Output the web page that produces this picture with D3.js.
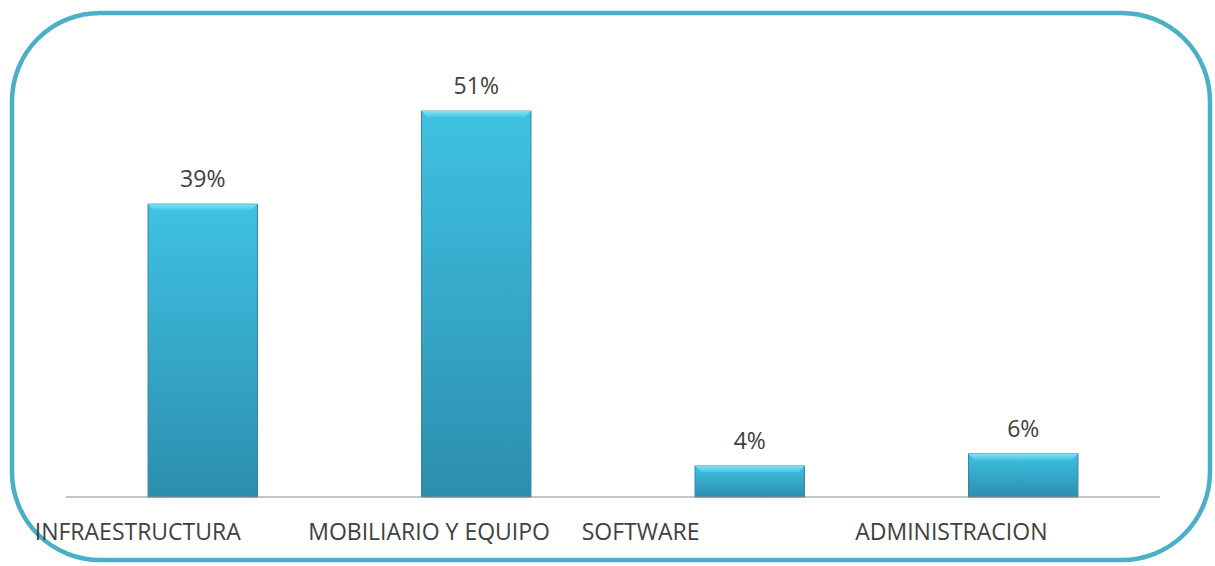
<!DOCTYPE html>
<html>
<head>
<meta charset="utf-8">
<script src="https://cdn.jsdelivr.net/npm/d3@7"></script>
<style>
  body { margin: 0; background: #fff; }
  text { font-family: 'Open Sans', 'Noto Sans', sans-serif; fill: #404040; }
</style>
</head>
<body>
<div id="chart"></div>
<script>
var categories = ["INFRAESTRUCTURA", "MOBILIARIO Y EQUIPO", "SOFTWARE", "ADMINISTRACION"];
var shares = [0.387, 0.51, 0.041, 0.057];
var yDomain = [0, 0.6];

var data = categories.map(function (c, i) { return { name: c, value: shares[i] }; });

var W = 1215, H = 566;
var margin = { top: 43, right: 55, bottom: 69, left: 66 },
    width = W - margin.left - margin.right,
    height = H - margin.top - margin.bottom;

var svg = d3.select("#chart").append("svg")
    .attr("width", W)
    .attr("height", H);

var defs = svg.append("defs");
var grad = defs.append("linearGradient")
    .attr("id", "barGrad").attr("x1", 0).attr("y1", 0).attr("x2", 0).attr("y2", 1);
grad.append("stop").attr("offset", "0%").attr("stop-color", "#3fc2e3");
grad.append("stop").attr("offset", "100%").attr("stop-color", "#2c8eae");

var bevel = defs.append("linearGradient")
    .attr("id", "bevelGrad").attr("x1", 0).attr("y1", 0).attr("x2", 0).attr("y2", 1);
bevel.append("stop").attr("offset", "0%").attr("stop-color", "#7fe2f4");
bevel.append("stop").attr("offset", "100%").attr("stop-color", "#48c6e4");

// frame
svg.append("rect")
    .attr("x", 12).attr("y", 13)
    .attr("width", 1198).attr("height", 547)
    .attr("rx", 88).attr("ry", 88)
    .attr("fill", "#fff")
    .attr("stroke", "#4bafc8")
    .attr("stroke-width", 4.5);

var g = svg.append("g")
    .attr("transform", "translate(" + margin.left + "," + margin.top + ")");

var x = d3.scaleBand().domain(categories).range([0, width])
    .paddingInner(0.6).paddingOuter(0.3);
var y = d3.scaleLinear().domain(yDomain).range([height, 0]);

// bars
var bars = g.selectAll(".bar").data(data).enter().append("g").attr("class", "bar");

bars.append("rect")
    .attr("x", function (d) { return x(d.name); })
    .attr("y", function (d) { return y(d.value); })
    .attr("width", x.bandwidth())
    .attr("height", function (d) { return height - y(d.value); })
    .attr("fill", "url(#barGrad)")
    .attr("stroke", "#3a8199")
    .attr("stroke-width", 1);

// top bevel
bars.append("path")
    .attr("d", function (d) {
        var x0 = x(d.name), x1 = x0 + x.bandwidth(), y0 = y(d.value), b = 6;
        return "M" + x0 + "," + y0 + "L" + x1 + "," + y0 + "L" + (x1 - b) + "," + (y0 + b) +
            "L" + (x0 + b) + "," + (y0 + b) + "Z";
    })
    .attr("fill", "url(#bevelGrad)");

// value labels
bars.append("text")
    .attr("x", function (d) { return x(d.name) + x.bandwidth() / 2; })
    .attr("y", function (d) { return y(d.value) - 17; })
    .attr("text-anchor", "middle")
    .style("font-size", "23px")
    .text(function (d) { return d3.format(".0%")(d.value); });

// axis line
g.append("line")
    .attr("x1", 0).attr("x2", width)
    .attr("y1", height).attr("y2", height)
    .attr("stroke", "#8c8c8c").attr("stroke-width", 1.2);

// category labels
g.selectAll(".cat").data(categories).enter().append("text")
    .attr("class", "cat")
    .attr("x", function (d) { return x(d) + x.bandwidth() / 2 - 168; })
    .attr("y", height + 43)
    .style("font-size", "23px")
    .text(function (d) { return d; });
</script>
</body>
</html>
